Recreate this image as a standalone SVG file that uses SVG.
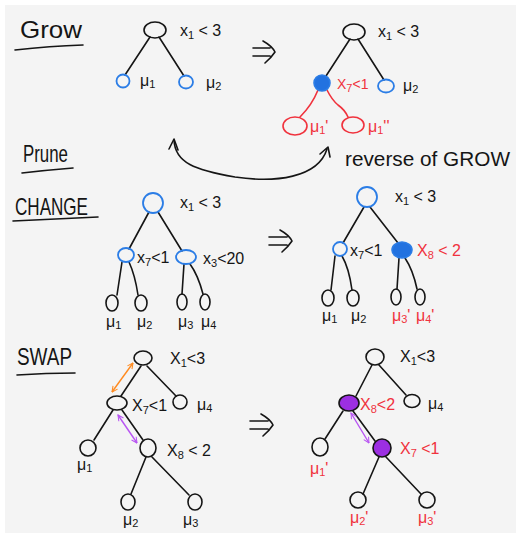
<svg xmlns="http://www.w3.org/2000/svg" width="516" height="533" viewBox="0 0 516 533">
  <style>
    .ink { fill: none; stroke: #151515; stroke-width: 1.6; stroke-linecap: round; stroke-linejoin: round; }
    .blue { fill: none; stroke: #2b7de6; stroke-width: 1.8; }
    .bluefill { fill: #2272e0; stroke: #2b7de6; stroke-width: 1.6; }
    .red { fill: none; stroke: #f0323d; stroke-width: 1.6; stroke-linecap: round; }
    .purplefill { fill: #9c2fe2; stroke: #151515; stroke-width: 1.6; }
    .node { fill: none; stroke: #151515; stroke-width: 1.6; }
    .orange { fill: none; stroke: #ff8a1f; stroke-width: 1.4; }
    .violet { fill: none; stroke: #b854f2; stroke-width: 1.4; }
    text { font-family: "Liberation Sans", "DejaVu Sans", sans-serif; fill: #151515; }
    .lbl { font-size: 16px; }
    .hd { font-size: 24px; }
    .rt { fill: #f0323d; }
    .sub { font-size: 11px; }
  </style>
  <defs>
    <marker id="headOrange" viewBox="0 0 10 10" refX="9" refY="5" markerWidth="7" markerHeight="7" orient="auto-start-reverse" markerUnits="userSpaceOnUse">
      <path d="M1,1 L9,5 L1,9" fill="none" stroke="#ff8a1f" stroke-width="1.5"/>
    </marker>
    <marker id="headViolet" viewBox="0 0 10 10" refX="9" refY="5" markerWidth="7" markerHeight="7" orient="auto-start-reverse" markerUnits="userSpaceOnUse">
      <path d="M1,1 L9,5 L1,9" fill="none" stroke="#b854f2" stroke-width="1.5"/>
    </marker>
  </defs>

  <!-- paper -->
  <rect x="0" y="0" width="516" height="533" fill="#ffffff"/>
  <rect x="5" y="5" width="511" height="528" fill="#f4f4f4"/>

  <!-- section headings -->
  <g id="heading-grow">
    <text class="hd" x="20" y="38" textLength="62" lengthAdjust="spacingAndGlyphs">Grow</text>
    <path class="ink" d="M15,50 Q50,46 83,45"/>
  </g>
  <g id="heading-prune">
    <text class="hd" x="23" y="162" textLength="45" lengthAdjust="spacingAndGlyphs">Prune</text>
    <path class="ink" d="M22,173 Q48,170 73,168"/>
  </g>
  <g id="heading-change">
    <text class="hd" x="15" y="215" font-size="28" textLength="73" lengthAdjust="spacingAndGlyphs">CHANGE</text>
    <path class="ink" d="M13,221 Q55,219 98,217"/>
  </g>
  <g id="heading-swap">
    <text class="hd" x="17" y="365" textLength="55" lengthAdjust="spacingAndGlyphs">SWAP</text>
    <path class="ink" d="M17,375 Q46,373 75,373"/>
  </g>

  <!-- connectors -->
  <g id="connectors">
    <!-- grow, before -->
    <path class="ink" d="M150,37 L125,75"/>
    <path class="ink" d="M159,37 L184,76"/>
    <!-- grow, after -->
    <path class="ink" d="M350,39 L326,76"/>
    <path class="ink" d="M358,39 L384,80"/>
    <path class="red" d="M318,90 Q312,105 300,117"/>
    <path class="red" d="M327,90 Q332,100 338,105 Q345,110 348,117"/>
    <!-- prune: reverse of grow -->
    <path class="ink" d="M174,140 C175,163 195,170 235,177 C275,183 318,178 327,149"/>
    <path class="ink" d="M169,149 L174,139 L178,150"/>
    <path class="ink" d="M320,154 L328,147 L330,157"/>
    <!-- change, before -->
    <path class="ink" d="M149,212 L129,249"/>
    <path class="ink" d="M158,212 L182,251"/>
    <path class="ink" d="M122,262 L117,295"/>
    <path class="ink" d="M129,262 Q135,275 138,295"/>
    <path class="ink" d="M184,264 L182,294"/>
    <path class="ink" d="M190,264 Q198,275 203,294"/>
    <!-- change, after -->
    <path class="ink" d="M364,207 L343,243"/>
    <path class="ink" d="M370,207 L398,243"/>
    <path class="ink" d="M335,256 L331,290"/>
    <path class="ink" d="M342,256 Q349,268 352,290"/>
    <path class="ink" d="M399,258 L397,289"/>
    <path class="ink" d="M405,258 Q413,270 417,289"/>
    <!-- swap, before -->
    <path class="ink" d="M141,366 L121,396"/>
    <path class="ink" d="M147,366 L176,396"/>
    <path class="ink" d="M113,410 L94,440"/>
    <path class="ink" d="M122,410 L143,440"/>
    <path class="ink" d="M146,457 L131,494"/>
    <path class="ink" d="M152,457 L189,495"/>
    <path class="orange" d="M133,363 L112,392" marker-start="url(#headOrange)" marker-end="url(#headOrange)"/>
    <path class="violet" d="M118,415 L137,443" marker-start="url(#headViolet)" marker-end="url(#headViolet)"/>
    <!-- swap, after -->
    <path class="ink" d="M372,365 L356,396"/>
    <path class="ink" d="M379,365 L406,395"/>
    <path class="ink" d="M343,411 L325,439"/>
    <path class="ink" d="M353,411 L375,441"/>
    <path class="ink" d="M379,457 L363,494"/>
    <path class="ink" d="M386,457 L421,494"/>
    <path class="violet" d="M351,413 L369,443" marker-start="url(#headViolet)" marker-end="url(#headViolet)"/>
    <!-- implication arrows -->
    <path class="ink" d="M253,48 L270,48 M253,56 L270,56 M263,41 Q272,46 275,52 Q271,58 265,63"/>
    <path class="ink" d="M269,237 L287,237 M269,245 L287,245 M280,230 Q289,235 292,241 Q288,247 282,252"/>
    <path class="ink" d="M250,421 L268,421 M250,429 L268,429 M261,414 Q270,419 273,425 Q269,431 263,436"/>
  </g>

  <!-- GROW, before -->
  <g id="g1-root"><ellipse class="node" cx="155" cy="30" rx="11" ry="8"/><text class="lbl" x="180" y="36">x<tspan class="sub" dy="3">1</tspan><tspan dy="-3"> &lt; 3</tspan></text></g>
  <g id="g1-leaf1"><circle class="blue" cx="123" cy="81" r="6.5"/><text class="lbl" x="140" y="86">μ<tspan class="sub" dy="2">1</tspan></text></g>
  <g id="g1-leaf2"><ellipse class="blue" cx="186" cy="82" rx="7" ry="6.5"/><text class="lbl" x="206" y="88">μ<tspan class="sub" dy="2">2</tspan></text></g>

  <!-- GROW, after -->
  <g id="g2-root"><ellipse class="node" cx="354" cy="32" rx="11" ry="8"/><text class="lbl" x="378" y="37">x<tspan class="sub" dy="3">1</tspan><tspan dy="-3"> &lt; 3</tspan></text></g>
  <g id="g2-split"><circle class="bluefill" cx="322" cy="83" r="8"/><text class="rt" x="337" y="89" font-size="14">X<tspan class="sub" font-size="10" dy="3">7</tspan><tspan dy="-3">&lt;1</tspan></text></g>
  <g id="g2-leaf2"><ellipse class="blue" cx="386" cy="86" rx="8" ry="6.5"/><text class="lbl" x="403" y="91">μ<tspan class="sub" dy="2">2</tspan></text></g>
  <g id="g2-new1"><ellipse class="red" cx="295" cy="126" rx="12" ry="9"/><text class="lbl rt" x="310" y="132" font-size="15">μ<tspan class="sub" dy="2">1</tspan><tspan dy="-2">'</tspan></text></g>
  <g id="g2-new2"><ellipse class="red" cx="353" cy="125" rx="11" ry="8"/><text class="lbl rt" x="368" y="132" font-size="15">μ<tspan class="sub" dy="2">1</tspan><tspan dy="-2">''</tspan></text></g>

  <!-- PRUNE note -->
  <g id="prune-note"><text x="345" y="166" font-size="20" textLength="165" lengthAdjust="spacingAndGlyphs">reverse of GROW</text></g>

  <!-- CHANGE, before -->
  <g id="c1-root"><circle class="blue" cx="153" cy="203" r="10"/><text class="lbl" x="180" y="208">x<tspan class="sub" dy="3">1</tspan><tspan dy="-3"> &lt; 3</tspan></text></g>
  <g id="c1-left"><ellipse class="blue" cx="126" cy="255" rx="8" ry="7"/><text class="lbl" x="137" y="263">x<tspan class="sub" dy="3">7</tspan><tspan dy="-3">&lt;1</tspan></text></g>
  <g id="c1-right"><ellipse class="blue" cx="186" cy="257" rx="10" ry="7"/><text class="lbl" x="203" y="264">x<tspan class="sub" dy="3">3</tspan><tspan dy="-3">&lt;20</tspan></text></g>
  <g id="c1-mu1"><ellipse class="node" cx="112" cy="303" rx="6" ry="8"/><text class="lbl" x="106" y="327">μ<tspan class="sub" dy="2">1</tspan></text></g>
  <g id="c1-mu2"><ellipse class="node" cx="141" cy="303" rx="6" ry="8"/><text class="lbl" x="137" y="327">μ<tspan class="sub" dy="2">2</tspan></text></g>
  <g id="c1-mu3"><ellipse class="node" cx="182" cy="302" rx="5" ry="8"/><text class="lbl" x="178" y="327">μ<tspan class="sub" dy="2">3</tspan></text></g>
  <g id="c1-mu4"><ellipse class="node" cx="205" cy="302" rx="5" ry="8"/><text class="lbl" x="201" y="327">μ<tspan class="sub" dy="2">4</tspan></text></g>

  <!-- CHANGE, after -->
  <g id="c2-root"><circle class="blue" cx="367" cy="197" r="10"/><text class="lbl" x="395" y="202">x<tspan class="sub" dy="3">1</tspan><tspan dy="-3"> &lt; 3</tspan></text></g>
  <g id="c2-left"><circle class="blue" cx="340" cy="249" r="7"/><text class="lbl" x="350" y="256">x<tspan class="sub" dy="3">7</tspan><tspan dy="-3">&lt;1</tspan></text></g>
  <g id="c2-right"><ellipse class="bluefill" cx="402" cy="250" rx="10" ry="8"/><text class="lbl rt" x="417" y="256">X<tspan class="sub" dy="3">8</tspan><tspan dy="-3"> &lt; 2</tspan></text></g>
  <g id="c2-mu1"><ellipse class="node" cx="328" cy="298" rx="6" ry="8"/><text class="lbl" x="322" y="321">μ<tspan class="sub" dy="2">1</tspan></text></g>
  <g id="c2-mu2"><ellipse class="node" cx="353" cy="298" rx="6" ry="8"/><text class="lbl" x="351" y="321">μ<tspan class="sub" dy="2">2</tspan></text></g>
  <g id="c2-mu3"><ellipse class="node" cx="396" cy="297" rx="5" ry="8"/><text class="lbl rt" x="392" y="321" font-size="15">μ<tspan class="sub" dy="2">3</tspan><tspan dy="-2">'</tspan></text></g>
  <g id="c2-mu4"><ellipse class="node" cx="420" cy="297" rx="5" ry="8"/><text class="lbl rt" x="416" y="321" font-size="15">μ<tspan class="sub" dy="2">4</tspan><tspan dy="-2">'</tspan></text></g>

  <!-- SWAP, before -->
  <g id="s1-root"><ellipse class="node" cx="143" cy="358" rx="9" ry="7"/><text class="lbl" x="170" y="364">X<tspan class="sub" dy="3">1</tspan><tspan dy="-3">&lt;3</tspan></text></g>
  <g id="s1-x7"><ellipse class="node" cx="117" cy="403" rx="10" ry="7"/><text class="lbl" x="132" y="411">X<tspan class="sub" dy="3">7</tspan><tspan dy="-3">&lt;1</tspan></text></g>
  <g id="s1-mu4"><circle class="node" cx="180" cy="402" r="7"/><text class="lbl" x="197" y="410">μ<tspan class="sub" dy="2">4</tspan></text></g>
  <g id="s1-mu1"><circle class="node" cx="88" cy="448" r="8"/><text class="lbl" x="77" y="470">μ<tspan class="sub" dy="2">1</tspan></text></g>
  <g id="s1-x8"><ellipse class="node" cx="148" cy="448" rx="8" ry="9"/><text class="lbl" x="167" y="456">X<tspan class="sub" dy="3">8</tspan><tspan dy="-3"> &lt; 2</tspan></text></g>
  <g id="s1-mu2"><ellipse class="node" cx="128" cy="502" rx="7" ry="8"/><text class="lbl" x="123" y="525">μ<tspan class="sub" dy="2">2</tspan></text></g>
  <g id="s1-mu3"><ellipse class="node" cx="195" cy="502" rx="7" ry="8"/><text class="lbl" x="183" y="525">μ<tspan class="sub" dy="2">3</tspan></text></g>

  <!-- SWAP, after -->
  <g id="s2-root"><ellipse class="node" cx="375" cy="357" rx="9" ry="8"/><text class="lbl" x="400" y="362">X<tspan class="sub" dy="3">1</tspan><tspan dy="-3">&lt;3</tspan></text></g>
  <g id="s2-x8"><ellipse class="purplefill" cx="349" cy="403" rx="10" ry="8"/><text class="lbl rt" x="360" y="410" font-size="15">X<tspan class="sub" dy="3">8</tspan><tspan dy="-3">&lt;2</tspan></text></g>
  <g id="s2-mu4"><ellipse class="node" cx="412" cy="401" rx="8" ry="6.5"/><text class="lbl" x="428" y="409">μ<tspan class="sub" dy="2">4</tspan></text></g>
  <g id="s2-mu1"><ellipse class="node" cx="320" cy="447" rx="8" ry="9"/><text class="lbl rt" x="310" y="474" font-size="15">μ<tspan class="sub" dy="2">1</tspan><tspan dy="-2">'</tspan></text></g>
  <g id="s2-x7"><circle class="purplefill" cx="382" cy="448" r="9"/><text class="lbl rt" x="400" y="454">X<tspan class="sub" dy="3">7</tspan><tspan dy="-3"> &lt;1</tspan></text></g>
  <g id="s2-mu2"><circle class="node" cx="358" cy="500" r="8"/><text class="lbl rt" x="350" y="523" font-size="15">μ<tspan class="sub" dy="2">2</tspan><tspan dy="-2">'</tspan></text></g>
  <g id="s2-mu3"><circle class="node" cx="427" cy="500" r="8"/><text class="lbl rt" x="418" y="523" font-size="15">μ<tspan class="sub" dy="2">3</tspan><tspan dy="-2">'</tspan></text></g>
</svg>
